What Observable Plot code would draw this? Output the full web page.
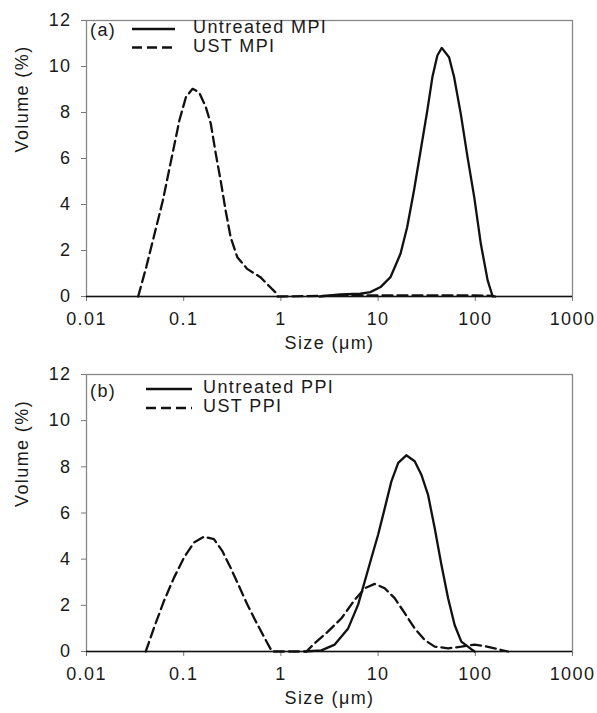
<!DOCTYPE html>
<html>
<head>
<meta charset="utf-8">
<script src="https://cdn.jsdelivr.net/npm/d3@7"></script>
<script src="https://cdn.jsdelivr.net/npm/@observablehq/plot@0.6"></script>
<style>
  html, body { margin: 0; padding: 0; background: white; }
  #chart { width: 597px; position: relative; }
  .panel { position: relative; width: 597px; }
  .panel svg { display: block; }
  .legend { position: absolute; left: 0; top: 0; pointer-events: none; }
  .legend text { font-family: "Liberation Sans", Arial, sans-serif; font-size: 18px; letter-spacing: 1.4px; fill: #1a1a1a; }
</style>
</head>
<body>
<div id="chart"></div>
<script>
// ---------- data ----------
const xTicks = [0.01, 0.1, 1, 10, 100, 1000];
const xTickLabels = ["0.01", "0.1", "1", "10", "100", "1000"];
const yTicks = [0, 2, 4, 6, 8, 10, 12];
const xLabel = "Size (\u03bcm)";
const yLabel = "Volume (%)";

// Panel (a)
const untreatedMPI_size = [2.5, 4.07, 6.56, 8.32, 10.6, 13.4, 17.0, 19.9, 23.4, 27.4, 32.1, 36.2, 40.7, 45.2, 53.7, 60.5, 70.9, 83.2, 97.5, 114, 134, 151];
const untreatedMPI_vol  = [0, 0.09, 0.12, 0.19, 0.41, 0.84, 1.86, 3.01, 4.61, 6.35, 8.09, 9.54, 10.48, 10.81, 10.4, 9.54, 7.94, 6.06, 4.32, 2.29, 0.7, 0];
const ustMPI_size = [0.034, 0.0412, 0.0501, 0.061, 0.0742, 0.0902, 0.1054, 0.1235, 0.144, 0.169, 0.19, 0.214, 0.24, 0.27, 0.304, 0.356, 0.45, 0.615, 0.746, 0.875, 0.92, 3, 10, 100, 150, 160];
const ustMPI_vol  = [0, 1.28, 2.72, 4.17, 5.91, 7.65, 8.67, 9.03, 8.88, 8.23, 7.51, 6.2, 5.04, 3.74, 2.58, 1.71, 1.2, 0.84, 0.48, 0.19, 0, 0.03, 0.05, 0.05, 0.03, 0];

// Panel (b)
const untreatedPPI_size = [1.76, 2.61, 3.58, 4.92, 6.23, 7.29, 8.53, 10, 11.7, 13.7, 16.1, 19.5, 23.8, 27.8, 32.6, 38.2, 44.8, 52.5, 61.3, 71.8, 90.9, 98.4];
const untreatedPPI_vol  = [0, 0.05, 0.3, 1.0, 2.03, 3.04, 4.05, 5.06, 6.2, 7.37, 8.17, 8.5, 8.24, 7.67, 6.8, 5.35, 3.76, 2.31, 1.15, 0.43, 0.1, 0];
const ustPPI_size = [0.0407, 0.0496, 0.0628, 0.0795, 0.1007, 0.1276, 0.1615, 0.2046, 0.249, 0.303, 0.369, 0.45, 0.57, 0.72, 0.81, 1.83, 2.23, 3.06, 4.2, 5.75, 7.29, 9.23, 11.7, 14.8, 18.8, 23.8, 30.1, 38.2, 52.5, 71.8, 98.4, 125, 171, 217];
const ustPPI_vol  = [0, 1.04, 2.2, 3.2, 4.07, 4.72, 4.97, 4.87, 4.36, 3.64, 2.85, 2.05, 1.19, 0.39, 0, 0, 0.36, 0.87, 1.44, 2.24, 2.74, 2.93, 2.74, 2.31, 1.66, 1.0, 0.5, 0.21, 0.14, 0.21, 0.3, 0.23, 0.1, 0];

const panels = [
  {tag: "(a)", names: ["Untreated MPI", "UST MPI"],
   solid: {size: untreatedMPI_size, vol: untreatedMPI_vol},
   dashed: {size: ustMPI_size, vol: ustMPI_vol},
   height: 355, marginTop: 20, marginBottom: 59,
   legend: {tagY: 31, y1: 29, y2: 47.5, x0: 132, x1: 175, tx: 193}},
  {tag: "(b)", names: ["Untreated PPI", "UST PPI"],
   solid: {size: untreatedPPI_size, vol: untreatedPPI_vol},
   dashed: {size: ustPPI_size, vol: ustPPI_vol},
   height: 358, marginTop: 19, marginBottom: 62,
   legend: {tagY: 37, y1: 34, y2: 53, x0: 146, x1: 192, tx: 203}}
];

const toRows = (s) => s.size.map((x, i) => ({x, y: s.vol[i]}));
const DASH = "10,5";

const root = document.getElementById("chart");
for (const p of panels) {
  const plot = Plot.plot({
    width: 597,
    height: p.height,
    marginLeft: 86,
    marginRight: 25,
    marginTop: p.marginTop,
    marginBottom: p.marginBottom,
    style: {fontFamily: "'Liberation Sans', Arial, sans-serif", fontSize: "18px", letterSpacing: "1.4px", color: "#1a1a1a", background: "white", overflow: "visible"},
    x: {type: "log", domain: [0.01, 1000]},
    y: {domain: [0, 12]},
    marks: [
      Plot.frame({stroke: "#888", strokeWidth: 1.3}),
      Plot.axisX({ticks: xTicks, tickFormat: (d) => xTickLabels[xTicks.indexOf(d)], tickSize: 5, tickPadding: 11, stroke: "#777", fill: "#1a1a1a", label: null}),
      Plot.axisY({ticks: yTicks, tickSize: 5, tickPadding: 10, stroke: "#777", fill: "#1a1a1a", label: null}),
      Plot.text([xLabel], {frameAnchor: "bottom", dy: 52, fill: "#1a1a1a"}),
      Plot.text([yLabel], {frameAnchor: "left", dx: -64, dy: -6, rotate: -90, fill: "#1a1a1a"}),
      Plot.line(toRows(p.dashed), {x: "x", y: "y", stroke: "#111", strokeWidth: 2.3, strokeDasharray: DASH}),
      Plot.line(toRows(p.solid), {x: "x", y: "y", stroke: "#111", strokeWidth: 2.3}),
      Plot.ruleY([0], {stroke: "#111", strokeWidth: 1.6})
    ]
  });
  const wrap = document.createElement("div");
  wrap.className = "panel";
  wrap.appendChild(plot);

  // legend overlay
  const L = p.legend;
  const ns = "http://www.w3.org/2000/svg";
  const svg = document.createElementNS(ns, "svg");
  svg.setAttribute("class", "legend");
  svg.setAttribute("width", 597);
  svg.setAttribute("height", p.height);
  const mk = (tag, attrs, txt) => {
    const e = document.createElementNS(ns, tag);
    for (const k in attrs) e.setAttribute(k, attrs[k]);
    if (txt) e.textContent = txt;
    svg.appendChild(e);
  };
  mk("text", {x: 90, y: L.tagY, "dominant-baseline": "middle"}, p.tag);
  mk("line", {x1: L.x0, x2: L.x1, y1: L.y1, y2: L.y1, stroke: "#111", "stroke-width": 2.3});
  mk("text", {x: L.tx, y: L.y1 - 0.5, "dominant-baseline": "middle"}, p.names[0]);
  mk("line", {x1: L.x0, x2: L.x1, y1: L.y2, y2: L.y2, stroke: "#111", "stroke-width": 2.3, "stroke-dasharray": DASH});
  mk("text", {x: L.tx, y: L.y2 - 0.5, "dominant-baseline": "middle"}, p.names[1]);
  wrap.appendChild(svg);
  root.appendChild(wrap);
}
</script>
</body>
</html>
